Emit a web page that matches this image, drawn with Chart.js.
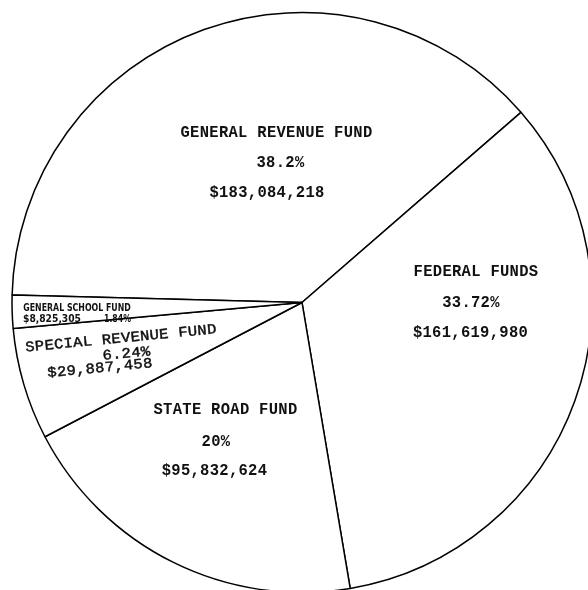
<!DOCTYPE html>
<html>
<head>
<meta charset="utf-8">
<script src="https://cdn.jsdelivr.net/npm/chart.js@4"></script>
<style>
  html, body { margin: 0; padding: 0; overflow: hidden; background: #fff; }
  #wrap { position: absolute; left: 0; top: 0; width: 604px; height: 605px; }
</style>
</head>
<body>
<div id="wrap"><canvas id="c" width="604" height="605"></canvas></div>
<script>
// Fund sources, clockwise from the left edge
const funds = ['GENERAL REVENUE FUND', 'FEDERAL FUNDS', 'STATE ROAD FUND', 'SPECIAL REVENUE FUND', 'GENERAL SCHOOL FUND'];
const amounts = [183084218, 161619980, 95832624, 29887458, 8825305];
const percentLabels = ['38.2%', '33.72%', '20%', '6.24%', '1.84%'];

// Label line centres, offset from the pie centre (name, percent, amount)
const labelSpots = [
  [[-25.5, -170.5], [-21.5, -140.5], [-35, -110.5]],
  [[174, -31.5], [169, -0.5], [168.5, 29.5]],
  [[-76.5, 106.5], [-86, 138.5], [-87.5, 167.5]],
  [[-181, 35.8], [-175.5, 51], [-202, 65.5]]
];
const labelTilt = [0, 0, 0, -5.5];
const labelStretch = [1.12, 1.12, 1.12, 0.92];
const labelWeight = ['bold', 'bold', 'bold', 'normal'];

const money = v => '$' + v.toLocaleString('en-US');

function typeLine(ctx, txt, x, y, tiltDeg, stretch, weight) {
  ctx.save();
  ctx.translate(x, y);
  ctx.rotate(tiltDeg * Math.PI / 180);
  ctx.scale(1, stretch);
  ctx.font = weight + ' 15.5px "Liberation Mono", "Courier New", monospace';
  try { ctx.letterSpacing = '0.3px'; } catch (e) {}
  ctx.textAlign = 'center';
  ctx.textBaseline = 'alphabetic';
  ctx.fillStyle = '#111';
  ctx.fillText(txt, 0, 4.4);
  if (weight === 'normal') {
    ctx.strokeStyle = '#111';
    ctx.lineWidth = 0.5;
    ctx.strokeText(txt, 0, 4.4);
  }
  ctx.restore();
}

function smallLine(ctx, txt, left, y, width) {
  ctx.save();
  ctx.font = 'bold 11px "DejaVu Sans Condensed", "DejaVu Sans", sans-serif';
  const w = ctx.measureText(txt).width;
  ctx.translate(left, y);
  ctx.scale(width / w, 1);
  ctx.textAlign = 'left';
  ctx.textBaseline = 'alphabetic';
  ctx.fillStyle = '#111';
  ctx.fillText(txt, 0, 4);
  ctx.restore();
}

const fundLabels = {
  id: 'fundLabels',
  afterDatasetsDraw(chart) {
    const arc = chart.getDatasetMeta(0).data[0];
    const cx = arc.x, cy = arc.y;
    const ctx = chart.ctx;
    labelSpots.forEach((spots, i) => {
      const lines = [funds[i], percentLabels[i], money(amounts[i])];
      lines.forEach((t, j) => typeLine(ctx, t, cx + spots[j][0], cy + spots[j][1],
        labelTilt[i], labelStretch[i], labelWeight[i]));
    });
    // narrow slice: compact two-line label
    const k = 4;
    smallLine(ctx, funds[k], cx - 278.7, cy + 4.2, 107.5);
    smallLine(ctx, money(amounts[k]), cx - 279, cy + 15, 58);
    smallLine(ctx, percentLabels[k], cx - 198, cy + 15, 27);
  }
};

new Chart(document.getElementById('c'), {
  type: 'pie',
  data: {
    labels: funds,
    datasets: [{
      data: amounts,
      backgroundColor: '#ffffff',
      borderColor: '#000000',
      borderWidth: 1.5,
      hoverOffset: 0
    }]
  },
  options: {
    responsive: false,
    animation: false,
    events: [],
    rotation: -88.5,
    radius: 290,
    layout: { padding: 0 },
    plugins: {
      legend: { display: false },
      tooltip: { enabled: false }
    }
  },
  plugins: [fundLabels]
});
</script>
</body>
</html>
